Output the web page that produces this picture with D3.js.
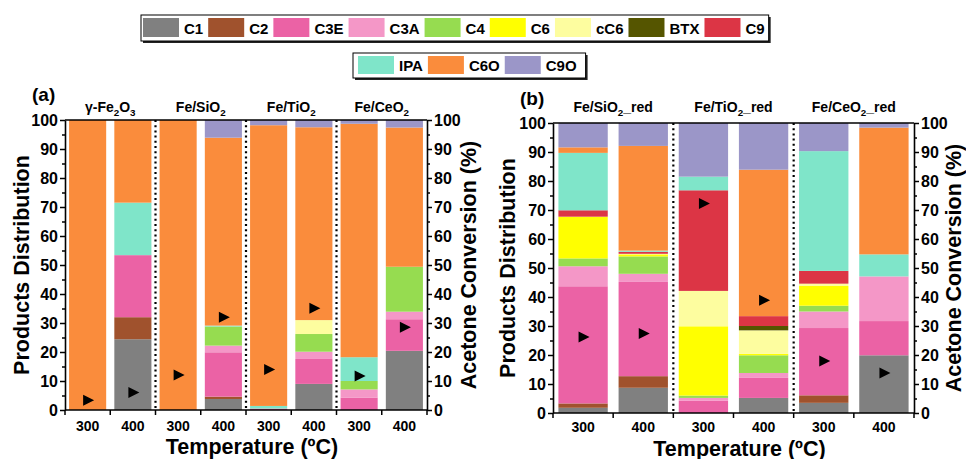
<!DOCTYPE html>
<html><head><meta charset="utf-8">
<script src="https://cdn.jsdelivr.net/npm/d3@7"></script>
<style>
body{margin:0;background:#fff}
svg{display:block}
text{font-family:"Liberation Sans",Arial,sans-serif;font-weight:bold;fill:#000}
</style>
</head><body>
<svg id="chart" width="966" height="459"></svg>
<script>
// ---------- DATA ----------
const seriesNames  = ["C1","C2","C3E","C3A","C4","C6","cC6","BTX","C9","IPA","C6O","C9O"];
const seriesColors = ["#808080","#A0522D","#EB62A5","#F497C7","#96DC50","#FFFF00","#FDFD9F","#555500","#DC3545","#7FE5C9","#FA8C3C","#9B96C8"];
const legendRow1 = ["C1","C2","C3E","C3A","C4","C6","cC6","BTX","C9"];
const legendRow2 = ["IPA","C6O","C9O"];
const temperatures = ["300","400"];
const yTicks = [0,10,20,30,40,50,60,70,80,90,100];

// panel (a): bars = γ-Fe2O3 300/400, Fe/SiO2 300/400, Fe/TiO2 300/400, Fe/CeO2 300/400
const catalystsA = ["γ-Fe2O3","Fe/SiO2","Fe/TiO2","Fe/CeO2"];
const C1_a  = [0, 24.4, 0, 3.8, 0, 9.0, 0, 20.4];
const C2_a  = [0, 7.6, 0, 0.8, 0, 0, 0, 0];
const C3E_a = [0, 21.4, 0, 15.3, 0.5, 8.6, 4.3, 10.9];
const C3A_a = [0, 0, 0, 2.3, 0, 2.5, 2.8, 2.6];
const C4_a  = [0, 0, 0, 6.6, 0, 6.1, 2.9, 15.5];
const C6_a  = [0, 0, 0, 0, 0, 0, 0, 0];
const cC6_a = [0, 0, 0, 0, 0, 4.8, 0, 0];
const BTX_a = [0, 0, 0, 0, 0, 0, 0, 0];
const C9_a  = [0, 0, 0, 0, 0, 0, 0, 0];
const IPA_a = [0, 18.1, 0, 0.3, 0.9, 0, 8.2, 0];
const C6O_a = [100, 28.5, 100, 64.8, 96.8, 66.5, 80.5, 48.0];
const C9O_a = [0, 0, 0, 6.1, 1.8, 2.5, 1.3, 2.6];
const conversion_a = [3.4, 6.0, 12.1, 32.0, 14.0, 35.1, 11.7, 28.5];

// panel (b): bars = Fe/SiO2_red 300/400, Fe/TiO2_red 300/400, Fe/CeO2_red 300/400
const catalystsB = ["Fe/SiO2_red","Fe/TiO2_red","Fe/CeO2_red"];
const C1_b  = [1.8, 8.7, 0, 5.2, 3.5, 19.9];
const C2_b  = [1.5, 4.0, 0, 0, 2.6, 0];
const C3E_b = [40.4, 32.5, 4.2, 6.9, 23.2, 11.8];
const C3A_b = [6.9, 2.8, 1.0, 1.7, 5.7, 15.4];
const C4_b  = [2.7, 6.0, 0.8, 6.1, 2.0, 0];
const C6_b  = [14.4, 0.7, 23.9, 0.5, 6.8, 0];
const cC6_b = [0, 0.2, 12.2, 8.1, 0.8, 0];
const BTX_b = [0, 0, 0, 1.5, 0, 0];
const C9_b  = [2.2, 0.7, 34.7, 3.4, 4.4, 0];
const IPA_b = [19.8, 0.4, 4.7, 0, 41.3, 7.6];
const C6O_b = [1.9, 36.1, 0, 50.5, 0, 43.7];
const C9O_b = [8.4, 7.9, 18.5, 16.1, 9.7, 1.6];
const conversion_b = [26.2, 27.4, 72.2, 38.9, 17.9, 13.8];

// ---------- HELPERS ----------
const colorOf = d3.scaleOrdinal().domain(seriesNames).range(seriesColors);
const svg = d3.select("#chart");
const FONT = '"Liberation Sans",Arial,sans-serif';

function buildRows(catalysts, cols){
  const rows = [];
  catalysts.forEach((c,ci)=>temperatures.forEach((t,ti)=>{
    const i = ci*temperatures.length+ti;
    const r = {id: c+"|"+t, cat: c, temp: t};
    seriesNames.forEach((s,si)=>{ r[s] = cols[si][i]; });
    rows.push(r);
  }));
  return rows;
}
function richText(sel, str, fs){
  const parts = str.match(/\d+|[^\d]+/g);
  let sub = false;
  parts.forEach(p=>{
    const t = sel.append("tspan").text(p);
    if(/^\d/.test(p)){ t.attr("font-size", fs*0.7).attr("dy", 4); sub = true; }
    else { t.attr("font-size", fs); if(sub){ t.attr("dy", -4); sub = false; } }
  });
}
const rightTri = { draw(ctx, size){ const s = Math.sqrt(size)/2; ctx.moveTo(-s,-s); ctx.lineTo(s,0); ctx.lineTo(-s,s); ctx.closePath(); } };

function drawPanel(cfg){
  const rows = buildRows(cfg.catalysts, cfg.cols);
  const x = d3.scaleBand().domain(rows.map(r=>r.id)).range([cfg.x0, cfg.x1]).paddingInner(0.18).paddingOuter(0.09);
  const y = d3.scaleLinear().domain([0,100]).range([cfg.yBot, cfg.yTop]);
  const g = svg.append("g");
  const stacked = d3.stack().keys(seriesNames)(rows);

  g.selectAll("g.layer").data(stacked).join("g").attr("class","layer")
    .attr("fill", d=>colorOf(d.key))
    .selectAll("rect").data(d=>d).join("rect")
    .attr("x", d=>x(d.data.id))
    .attr("width", x.bandwidth())
    .attr("y", d=>y(d[1]))
    .attr("height", d=>Math.max(0, y(d[0]) - y(d[1])));

  const step = x.step();
  const half = step*x.paddingInner()/2;
  const bounds = [cfg.x0].concat(rows.map(r=>x(r.id)+x.bandwidth()+half));
  bounds[bounds.length-1] = cfg.x1;

  cfg.catalysts.slice(0,-1).forEach((c,ci)=>{
    const bx = x(rows[ci*2+1].id) + x.bandwidth() + half;
    g.append("line").attr("x1",bx).attr("x2",bx).attr("y1",cfg.yTop).attr("y2",cfg.yBot)
      .attr("stroke","#000").attr("stroke-width",2.2).attr("stroke-dasharray","2,3.2");
  });

  g.selectAll("path.mk").data(rows).join("path").attr("class","mk")
    .attr("d", d3.symbol().type(rightTri).size(121))
    .attr("transform",(d,i)=>`translate(${x(d.id)+x.bandwidth()/2+1},${y(cfg.conv[i])})`)
    .attr("fill","#000");

  const styleAxis = a => { a.selectAll("path").attr("stroke-width",1.6); a.selectAll("line").attr("stroke-width",1.5);
    a.selectAll("text").attr("font-family",FONT).attr("font-weight","bold").attr("font-size",16).attr("fill","#000"); };
  const minorVals = d3.range(5,100,10);
  const left = g.append("g").attr("transform",`translate(${cfg.x0},0)`)
    .call(d3.axisLeft(y).tickValues(yTicks).tickSize(5).tickSizeOuter(0).tickPadding(2));
  styleAxis(left);
  g.append("g").attr("transform",`translate(${cfg.x0},0)`)
    .call(d3.axisLeft(y).tickValues(minorVals).tickSize(3).tickFormat("")).call(a=>{a.select(".domain").remove(); a.selectAll("line").attr("stroke-width",1.5);});
  const right = g.append("g").attr("transform",`translate(${cfg.x1},0)`)
    .call(d3.axisRight(y).tickValues(yTicks).tickSize(5).tickSizeOuter(0).tickPadding(2));
  styleAxis(right);
  g.append("g").attr("transform",`translate(${cfg.x1},0)`)
    .call(d3.axisRight(y).tickValues(minorVals).tickSize(3).tickFormat("")).call(a=>{a.select(".domain").remove(); a.selectAll("line").attr("stroke-width",1.5);});

  g.append("line").attr("x1",cfg.x0).attr("x2",cfg.x1).attr("y1",cfg.yBot).attr("y2",cfg.yBot).attr("stroke","#000").attr("stroke-width",1.6);
  g.append("line").attr("x1",cfg.x0).attr("x2",cfg.x1).attr("y1",cfg.yTop).attr("y2",cfg.yTop).attr("stroke","#000").attr("stroke-width",1.6);
  g.selectAll("line.bt").data(bounds).join("line").attr("class","bt")
    .attr("x1",d=>d).attr("x2",d=>d).attr("y1",cfg.yBot).attr("y2",cfg.yBot+5)
    .attr("stroke","#000").attr("stroke-width",1.5);
  g.selectAll("text.xl").data(rows).join("text").attr("class","xl")
    .attr("x",d=>x(d.id)+x.bandwidth()/2).attr("y",cfg.tickLabelY)
    .attr("text-anchor","middle").attr("font-size",14).text(d=>d.temp);

  cfg.catalysts.forEach((c,ci)=>{
    const cx = (x(rows[ci*2].id) + x(rows[ci*2+1].id) + x.bandwidth())/2;
    const t = g.append("text").attr("x",cx).attr("y",cfg.titleY).attr("text-anchor","middle").attr("font-size",14);
    richText(t, c, 14);
  });

  g.append("text").attr("transform",`translate(${cfg.x0+cfg.leftTitleDx},${(cfg.yTop+cfg.yBot)/2}) rotate(-90)`)
    .attr("text-anchor","middle").attr("dominant-baseline","central").attr("font-size",21.5).text("Products Distribution");
  g.append("text").attr("transform",`translate(${cfg.x1+cfg.rightTitleDx},${(cfg.yTop+cfg.yBot)/2}) rotate(-90)`)
    .attr("text-anchor","middle").attr("dominant-baseline","central").attr("font-size",21.5).text("Acetone Conversion (%)");
  g.append("text").attr("x",(cfg.x0+cfg.x1)/2+6).attr("y",cfg.tempY).attr("text-anchor","middle").attr("font-size",21.5).text("Temperature (ºC)");
  g.append("text").attr("x",cfg.labelX).attr("y",cfg.labelY).attr("font-size",19).text(cfg.label);
}

drawPanel({
  catalysts: catalystsA,
  cols: [C1_a,C2_a,C3E_a,C3A_a,C4_a,C6_a,cC6_a,BTX_a,C9_a,IPA_a,C6O_a,C9O_a],
  conv: conversion_a,
  x0: 65, x1: 427, yTop: 120, yBot: 410,
  titleY: 112, tickLabelY: 431, tempY: 454, leftTitleDx: -43, rightTitleDx: 42,
  label: "(a)", labelX: 32, labelY: 101
});
drawPanel({
  catalysts: catalystsB,
  cols: [C1_b,C2_b,C3E_b,C3A_b,C4_b,C6_b,cC6_b,BTX_b,C9_b,IPA_b,C6O_b,C9O_b],
  conv: conversion_b,
  x0: 553, x1: 914, yTop: 123, yBot: 413,
  titleY: 112, tickLabelY: 432, tempY: 455.5, leftTitleDx: -45, rightTitleDx: 40,
  label: "(b)", labelX: 520, labelY: 105
});

// ---------- LEGENDS ----------
function drawLegend(keys, bx, by, bh, padL, padR){
  const g = svg.append("g");
  const sh = g.append("rect"), box = g.append("rect");
  let cx = bx + padL;
  keys.forEach(k=>{
    g.append("rect").attr("x",cx).attr("y",by+3).attr("width",36).attr("height",bh-7).attr("fill",colorOf(k));
    const t = g.append("text").attr("x",cx+41).attr("y",by+bh/2).attr("dominant-baseline","central").attr("font-size",15).text(k);
    cx += 41 + t.node().getComputedTextLength() + 5;
  });
  const bw = cx - 5 + padR - bx;
  sh.attr("x",bx+2).attr("y",by+2).attr("width",bw).attr("height",bh).attr("fill","#222");
  box.attr("x",bx).attr("y",by).attr("width",bw).attr("height",bh).attr("fill","#fff").attr("stroke","#000").attr("stroke-width",1);
}
drawLegend(legendRow1, 141, 15, 26, 2, 4);
drawLegend(legendRow2, 353, 53, 25, 5, 9);
</script>
</body></html>
